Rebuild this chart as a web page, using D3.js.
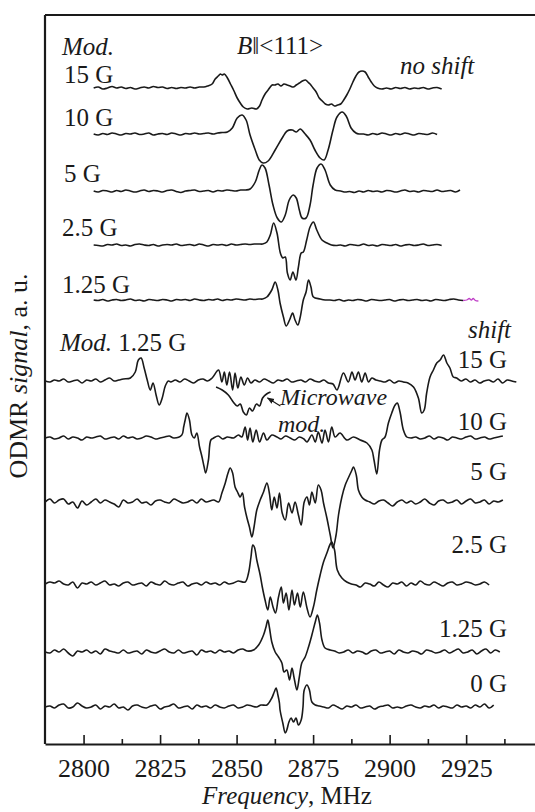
<!DOCTYPE html>
<html><head><meta charset="utf-8">
<script src="https://cdn.jsdelivr.net/npm/d3@7"></script>
<style>
html,body{margin:0;padding:0;background:#fff;}
svg{display:block;font-family:"Liberation Serif","DejaVu Serif",serif;}
</style></head><body>
<svg id="chart" width="535" height="812"></svg>
<script>
// ---------------- DATA ----------------
const STEP = 1.5; // MHz between baseline samples
const majorTicks = [2800, 2825, 2850, 2875, 2900, 2925];
const minorTicks = [2812.5, 2837.5, 2862.5, 2887.5, 2912.5, 2937.5];

// ---- "no shift" block, modulation amplitude series ----
const t15L = [0,1,-1,0,1.5,0,1,-0.5,0.5,-1, 0,1,0,1.5,0.5,1,-0.5,0.5,-0.5,0.5, 0,1,0,1,1];
const t15P = [[2840.5,2],[2842,4],[2843,9],[2844,12],[2844.7,14],[2845.3,13],[2846,14],[2847,10],[2848,4],[2849,-2],[2850.2,-10],[2851.2,-15],[2852.2,-19],[2853.5,-21],[2855,-20],[2856.5,-21],[2857.5,-18],[2858.3,-12],[2859.3,-6],[2860.3,-2],[2861.6,3],[2862.5,3],[2863.5,4],[2864.5,2],[2865.5,4],[2866.5,3],[2867.5,2],[2868.5,1],[2869.5,3],[2870.5,5],[2871.5,7],[2872.5,8],[2873.3,6],[2874,4],[2875,0],[2876,-4],[2877,-10],[2878,-13],[2879,-16],[2880,-17],[2881,-16],[2882,-18],[2883,-17],[2884,-16],[2885,-12],[2886,-7],[2887,-1],[2888,6],[2889,12],[2890,16],[2891,17],[2892,16],[2893,11],[2894,6],[2895,2],[2896,0]];
const t15R = [-1,0,-1,0.5,-0.5,0.5,-1,0,-0.5,0.5, -1,0,0.5,-1];

const t10L = [0,-1,0.5,-0.5,1,0,-1,0.5,0,1, -0.5,0,1,-1,0,0.5,-0.5,1,0,-1, 0.5,0,1,0,0.5,1,0,1,1.5];
const t10P = [[2847,2],[2848.6,6],[2850.2,16],[2851.8,19],[2853.1,14],[2854.4,-1],[2856.1,-16],[2857.4,-26],[2858.7,-29],[2860.3,-27],[2862.6,-16],[2864.9,-4],[2866.5,3],[2868.2,4],[2869.5,2],[2870.8,5],[2872.4,0],[2874,-6],[2875.6,-16],[2877.3,-24],[2878.6,-26],[2879.9,-16],[2881.5,4],[2882.8,17],[2884.5,22],[2885.8,18],[2887.4,6],[2889,1],[2890,0]];
const t10R = [0,-1,0.5,-0.5,1,0,-1,0.5,-0.5,1, 0,-1,0.5,0,-0.5,1,-0.5];

const t5L = [0,-1,0.5,0,-1,0.5,-0.5,1,0,-1, 0,1,-0.5,0.5,0,-1,0.5,1,-0.5,-1.5, 0,0.5,1,-0.5,0,0.5,-1,0.5,0,1, 0.5,0,1];
const t5P = [[2853,1],[2854.4,2],[2856.1,9],[2857.4,21],[2858.3,26],[2859.3,23],[2860.6,6],[2861.9,-14],[2863.3,-27],[2864.6,-31],[2865.9,-24],[2867.2,-9],[2868.5,-4],[2869.5,-7],[2870.5,-19],[2871.4,-27],[2872.7,-27],[2874,-14],[2875,6],[2876.3,23],[2877.6,27],[2878.9,21],[2880.6,6],[2882.2,1],[2884,0]];
const t5R = [-1,-0.5,-1.5,0,-1,0.5,-0.5,0,-1,0.5, 0,-1,0,1,-0.5,0,-1,0.5,0,-0.5, 1,-0.5,0,0.5,-1,1];

const t25L = [0,-0.5,-1,0.5,0,1,-0.5,0,-1,0.5, 1,0,-0.5,0.5,-1,0,0.5,0,1,-0.5, 0,0.5,-0.5,1,0,-1,0.5,0,0.5,-0.5, 1,0,0.5,1,0.5,1,1];
const t25P = [[2858.5,1],[2859.9,3],[2861,10],[2862.1,22],[2863.2,12],[2864.3,-8],[2865.1,-13],[2865.9,-12],[2866.6,-28],[2867.5,-35],[2868.4,-27],[2869.4,-35],[2870.2,-22],[2871.1,-8],[2871.8,-7],[2872.9,5],[2874,18],[2875.1,23],[2876.2,15],[2877.9,5],[2879.5,2],[2881,0]];
const t25R = [-0.5,0,-1,0.5,0,-0.5,1,-0.5,0,-1, 0.5,0,-0.5,0.5,-1,0,0.5,-0.5,0,1, -0.5,0,0.5,-0.5];

const t125L = [0,-0.5,0.5,-1,0,0.5,-0.5,0,1,-0.5, 0,-1,0.5,0,-0.5,0.5,0,-1,0.5,0, 0.5,-0.5,1,0,-0.5,0.5,0,1,-0.5,0.5, 0,1,0.5,0,1,0.5,1];
const t125P = [[2858.5,1],[2859.9,3],[2861.5,10],[2862.6,18],[2863.5,10],[2864.2,-3],[2865.3,-17],[2866.2,-26],[2867.3,-20],[2868.3,-13],[2869.1,-20],[2870,-25],[2870.8,-17],[2871.8,0],[2872.7,8],[2873.5,20],[2874.3,13],[2875.1,3],[2877.3,1],[2879,0]];
const t125R = [0,-0.5,0.5,-1,0,-0.5,0.5,0,-1,0.5, 0,-0.5,0,0.5,-1,0,0.5,-0.5,0,0.5, -0.5,0,-1,0.5,0,-0.5,0.5,1,0,-0.5];
const t125Tail = [[2924,-0.5],[2925.2,0],[2926,1.5],[2926.7,0],[2927.3,1.5],[2928,-0.5],[2929,-1]];

// ---- "shift" block, modulation 1.25 G ----
const b15L = [0,-1,1,0,2,-1,0,1,-2,1, 0,2,-1,1,3,0,1,2];
const b15P1 = [[2815.3,3],[2816.9,9],[2817.9,21],[2818.8,23],[2819.8,13],[2820.8,1],[2821.8,-9],[2822.7,-2],[2823.7,-14],[2824.7,-24],[2825.7,-17],[2826.7,-5],[2827.7,0],[2828.5,-1]];
const b15M1 = [1,-1,2,0,-2,1,2,0,3];
const b15P2 = [[2844.1,11],[2845.2,-1],[2846,9],[2846.8,-4],[2847.7,9],[2848.7,-9],[2849.5,8],[2850.4,-7],[2851.4,4],[2852.5,-4],[2853.6,3],[2854.7,-2]];
const b15M2 = [1,-1,2,0,-2,1,0,2,-1,0, 1,-1,2,0,-1,1,-2,-3];
const b15P3 = [[2882.8,-9],[2884.9,8],[2886.5,-1],[2887.7,9],[2888.7,1],[2889.8,9],[2890.9,-1],[2892,8],[2893.1,-1],[2894.2,3]];
const b15M3 = [1,0,-1,1,-2,0,-1,-2];
const b15P4 = [[2907.8,-6],[2909.4,-17],[2910.5,-32],[2911.3,-29],[2912.1,-12],[2913.2,4],[2914.3,11],[2915.4,18],[2916.5,21],[2917.6,26],[2918.7,18],[2919.7,13],[2920.8,4],[2921.9,3]];
const b15R = [0,2,-1,1,-2,0,1,-1,2,-2, 1,0,-1];
const mwMod = [[2843.3,-6],[2845.3,-9],[2847.3,-14],[2848.9,-21],[2850.2,-25],[2851.2,-23],[2852.2,-31],[2853.2,-34],[2854.2,-27],[2855.2,-30],[2856.5,-23],[2857.5,-25],[2858.5,-17],[2859.8,-13],[2861.1,-11]];

const b10L = [0,1,-1,0,2,-1,1,0,-2,1, 0,1,2,-1,0,1,-1,2,0,1, -1,0,2,1,-1,0,1,2,0];
const b10P1 = [[2832.1,3],[2832.7,11],[2833.2,18],[2833.8,25],[2834.6,18],[2835.4,3],[2836.2,0],[2837,5],[2837.9,-9],[2838.7,-19],[2839.4,-29],[2839.9,-35],[2840.8,-22],[2841.6,-2],[2842.5,0]];
const b10M1 = [2,-1,1];
const b10P2 = [[2849,0],[2850.6,3],[2851.7,1],[2852.8,11],[2853.6,-2],[2854.4,10],[2855.3,-4],[2856.4,8],[2857.5,-4],[2858.8,5],[2859.9,-2],[2861.5,3],[2863.2,1]];
const b10M2 = [-1,2,0,-2,1,-1];
const b10P3 = [[2873,-4],[2874.6,3],[2875.7,-4],[2876.7,6],[2877.9,-5],[2878.9,8],[2880,-4],[2881.1,11],[2882.2,1],[2883.8,5],[2886,-2],[2888.2,1],[2890.4,-2],[2892.6,-5],[2894.2,-12],[2894.9,-22],[2895.8,-36],[2896.7,-12],[2897.5,-2],[2898.5,1],[2899.6,15],[2900.7,25],[2901.8,33],[2902.5,35],[2903.4,26],[2904.5,8],[2905.6,1],[2907,0]];
const b10R = [1,-1,0,2,-1,1,0,-2,1,0, -1,1,2,-1,0,1,-1,0,1,2];

const b5L = [0,3,-1,2,3,-2,0,-6,1,-3, 0,3,-1,2,0,-2,-5,2,-1,0, 3,-1,0,-3,1,2,0,-1,3,1, -1,0,2,-1,3,0];
const b5P = [[2842.5,2],[2844.1,0],[2845.2,9],[2846.3,19],[2847.2,29],[2847.9,34],[2848.7,29],[2849.5,15],[2850.3,10],[2851.2,5],[2851.9,9],[2852.6,-5],[2853.4,-16],[2854.2,-25],[2855,-35],[2855.7,-25],[2856.6,-8],[2857.7,2],[2858.8,10],[2859.9,19],[2860.7,9],[2861.5,-8],[2862.3,5],[2863.2,-6],[2864,9],[2864.9,-11],[2865.9,-18],[2867,-1],[2868.1,-11],[2869.1,0],[2870.2,-13],[2871.1,-23],[2872.1,0],[2873,5],[2873.8,-3],[2874.6,10],[2875.7,-1],[2876.7,17],[2877.6,12],[2878.4,-1],[2879.5,-16],[2880.6,-33],[2881.5,-46],[2882.5,-33],[2883.3,-13],[2884.4,5],[2885.5,17],[2886.5,24],[2887.7,32],[2888.2,35],[2889.1,27],[2889.8,12],[2890.9,5],[2892,2]];
const b5R = [0,-2,1,2,-1,-4,0,2,-1,1, -2,0,3,-1,-3,1,2,-1,0,2, -2,1,3,-1,0,2,-2,1,0,2];

const b25L = [0,2,1,3,0,-1,2,-4,1,0, 2,-1,1,3,-1,0,-2,1,2,-1, 0,1,-2,2,0,-1,3,0,-1,1, 2,-2,0,1,-1,2,0,1,-1,2, 0,1,3];
const b25P = [[2852.8,2],[2853.9,11],[2854.7,27],[2855.3,39],[2855.8,37],[2856.6,24],[2857.7,9],[2858.4,-3],[2859.3,-16],[2860.2,-26],[2861,-13],[2861.9,-23],[2862.7,-29],[2863.7,-13],[2864.6,-3],[2865.3,-19],[2866.2,-9],[2867.1,-26],[2868.1,-6],[2868.9,-21],[2869.9,-9],[2870.8,-23],[2871.8,-8],[2873,-24],[2874,-33],[2875.1,-23],[2876.2,-6],[2877.3,9],[2878.4,22],[2879.5,31],[2880.6,40],[2881.1,42],[2882,34],[2882.9,14],[2884.4,6],[2886,2]];
const b25R = [0,-1,-3,1,0,-2,2,-1,-3,1, 0,2,-2,1,-1,3,0,-1,2,0, -2,1,2,-1,0,2,1,-1,0,2, -1];

const b125L = [0,-1,2,0,3,-1,-4,1,0,2, -1,1,-2,3,1,0,-1,2,-1,0, 1,-2,2,0,-1,1,3,0,-1,2, -1,0,1,-3,2,0,1,-1,2,0, 1,-1,2,3,1];
const b125P = [[2855.5,2],[2857.2,7],[2858.8,17],[2859.6,25],[2860.2,32],[2860.7,25],[2861.5,10],[2862.6,0],[2863.7,-5],[2864.8,-11],[2865.5,-20],[2866.4,-18],[2867.3,-28],[2868.1,-16],[2868.8,-26],[2869.7,-38],[2870.5,-25],[2871.3,-11],[2872.4,-5],[2873.5,5],[2874.6,17],[2875.7,30],[2876.4,37],[2877.1,29],[2877.9,12],[2878.9,4],[2880.6,2]];
const b125R = [1,-1,0,2,-1,1,0,-2,1,2, -1,0,1,-2,2,0,-1,1,0,-2, 2,1,-1,0,2,-1,1,3,-1,0, 2,-2,1,3,-1,2,0];

const b0L = [0,1,-1,2,3,-1,0,4,1,-1, 0,2,-2,1,0,3,-1,0,-3,1, 2,0,-1,1,2,-2,0,1,3,-1, 0,1,-2,2,0,1,-1,2,0,-1, 1,2,-1,0,2,1,0,2];
const b0P = [[2859.9,2],[2861.5,9],[2862.3,15],[2862.9,19],[2863.5,12],[2864,4],[2864.2,-3],[2865.1,-16],[2865.9,-26],[2866.4,-23],[2867.1,-15],[2867.8,-11],[2868.6,-15],[2869.4,-11],[2870.2,-18],[2871.1,-13],[2871.7,0],[2872.1,17],[2873,22],[2873.8,17],[2874.6,5],[2875.7,2]];
const b0R = [1,0,-1,2,0,-2,1,0,2,-1, 0,1,-2,0,1,2,-1,0,-1,1, 2,0,-1,1,0,2,-1,1,0,-1, 2,0,1,-1,2,0,3,-1,2];

// trace offsets (signal level of each baseline, a.u.)
const offsets = {t15:656, t10:610, t5:553, t25:499, t125:444, b15:363, b10:306, b5:242, b25:160, b125:92, b0:37};

// each trace: list of parts: ["n", startFreq, values] (uniform samples) or ["p", pairs]
const traces = [
  {off:offsets.t15, parts:[["n",2803.3,t15L],["p",t15P],["n",2897.5,t15R]]},
  {off:offsets.t10, parts:[["n",2803.3,t10L],["p",t10P],["n",2891.5,t10R]]},
  {off:offsets.t5, parts:[["n",2803.3,t5L],["p",t5P],["n",2885.5,t5R]]},
  {off:offsets.t25, parts:[["n",2803.3,t25L],["p",t25P],["n",2882.5,t25R]]},
  {off:offsets.t125, parts:[["n",2803.3,t125L],["p",t125P],["n",2880.5,t125R]]},
  {off:offsets.b15, parts:[["n",2787.5,b15L],["p",b15P1],["n",2830,b15M1],["p",b15P2],["n",2856,b15M2],["p",b15P3],["n",2895.5,b15M3],["p",b15P4],["n",2923.4,b15R]]},
  {off:offsets.b10, parts:[["n",2787.5,b10L],["p",b10P1],["n",2844,b10M1],["p",b10P2],["n",2864.5,b10M2],["p",b10P3],["n",2908.5,b10R]]},
  {off:offsets.b5, parts:[["n",2787.5,b5L],["p",b5P],["n",2893.5,b5R]]},
  {off:offsets.b25, parts:[["n",2787.5,b25L],["p",b25P],["n",2887.5,b25R]]},
  {off:offsets.b125, parts:[["n",2787.5,b125L],["p",b125P],["n",2882,b125R]]},
  {off:offsets.b0, parts:[["n",2787.5,b0L],["p",b0P],["n",2877,b0R]]},
  {off:offsets.b15, parts:[["p",mwMod]]}
];

// ---------------- DRAW ----------------
const FONT = '"Liberation Serif","DejaVu Serif",serif';
const svg = d3.select("#chart");
const pLeft = 45, pTop = 15, pBottom = 744, pRight = 535;
const x = d3.scaleLinear().domain([2787.4, 2947.5]).range([pLeft, pRight]);
const y = d3.scaleLinear().domain([0, 729]).range([pBottom, pTop]);
const FS = 25;
const ink = "#1a1a1a";

function pts(t) {
  const out = [];
  t.parts.forEach(p => {
    if (p[0] === "n") p[2].forEach((v, i) => out.push([p[1] + i * STEP, v]));
    else p[1].forEach(d => out.push(d));
  });
  return out.sort((a, b) => a[0] - b[0]);
}
const line = d3.line().curve(d3.curveCatmullRom.alpha(0.5));

const gT = svg.append("g");
traces.forEach(t => {
  gT.append("path")
    .attr("d", line(pts(t).map(d => [x(d[0]), y(t.off + d[1])])))
    .attr("fill", "none").attr("stroke", ink).attr("stroke-width", 1.6)
    .attr("stroke-linejoin", "round");
});
gT.append("path")
  .attr("d", line(t125Tail.map(d => [x(d[0]), y(offsets.t125 + d[1])])))
  .attr("fill", "none").attr("stroke", "#c040c8").attr("stroke-width", 1.3);

// frame
svg.append("line").attr("x1", pLeft).attr("x2", pLeft).attr("y1", pTop).attr("y2", pBottom)
  .attr("stroke", ink).attr("stroke-width", 2.2);
svg.append("line").attr("x1", pLeft).attr("x2", pRight).attr("y1", pTop).attr("y2", pTop)
  .attr("stroke", ink).attr("stroke-width", 2.2);

// axes
const ax = svg.append("g").attr("transform", `translate(0,${pBottom})`)
  .call(d3.axisBottom(x).tickValues(majorTicks).tickSize(-9).tickSizeOuter(0)
    .tickPadding(15).tickFormat(d3.format("d")));
ax.attr("font-family", FONT);
ax.select(".domain").attr("stroke", ink).attr("stroke-width", 2.2);
ax.selectAll(".tick line").attr("stroke", ink).attr("stroke-width", 1.6);
ax.selectAll(".tick text").attr("font-family", FONT).attr("font-size", 26).attr("fill", ink);
const axm = svg.append("g").attr("transform", `translate(0,${pBottom})`)
  .call(d3.axisBottom(x).tickValues(minorTicks).tickSize(-5).tickFormat(""));
axm.select(".domain").remove();
axm.selectAll(".tick line").attr("stroke", ink).attr("stroke-width", 1.6);

// text helper
function txt(xp, yp, parts, anchor, fs) {
  const t = svg.append("text").attr("x", xp).attr("y", yp).attr("font-size", fs || FS)
    .attr("font-family", FONT).attr("fill", ink).attr("text-anchor", anchor || "start");
  parts.forEach(p => t.append("tspan").attr("font-style", p[1] ? "italic" : "normal").text(p[0]));
  return t;
}

// x label
txt(287, 804, [["Frequency", 1], [", MHz", 0]], "middle");
// y label
const yl = svg.append("text").attr("transform", "translate(27,376) rotate(-90)")
  .attr("font-family", FONT).attr("font-size", 26).attr("fill", ink).attr("text-anchor", "middle");
yl.append("tspan").text("ODMR ");
yl.append("tspan").attr("font-style", "italic").text("signal");
yl.append("tspan").text(", a. u.");

// labels top block
txt(62, 55, [["Mod.", 1]]);
txt(64, 83, [["15 G", 0]]);
txt(64, 126, [["10 G", 0]]);
txt(64, 182, [["5 G", 0]]);
txt(62, 236, [["2.5 G", 0]]);
txt(62, 293, [["1.25 G", 0]]);
txt(237, 54, [["B", 1], ["\u2016<111>", 0]]);
txt(400, 74, [["no shift", 1]]);
txt(468, 338, [["shift", 1]]);
txt(60, 351, [["Mod.", 1], [" 1.25 G", 0]]);

// right labels bottom block
const rx = 507;
txt(rx, 368, [["15 G", 0]], "end");
txt(rx, 430, [["10 G", 0]], "end");
txt(rx, 480, [["5 G", 0]], "end");
txt(rx, 553, [["2.5 G", 0]], "end");
txt(rx, 637, [["1.25 G", 0]], "end");
txt(rx, 692, [["0 G", 0]], "end");

// microwave annotation
txt(280, 405, [["Microwave", 1]], "start", 24);
txt(278, 432, [["mod.", 1]], "start", 24);
svg.append("defs").append("marker").attr("id", "ah").attr("viewBox", "0 0 10 10")
  .attr("refX", 9).attr("refY", 5).attr("markerWidth", 6).attr("markerHeight", 6)
  .attr("orient", "auto").append("path").attr("d", "M0,1 L10,5 L0,9 Z").attr("fill", ink);
svg.append("line").attr("x1", x(2864.3)).attr("y1", y(338)).attr("x2", x(2860.1)).attr("y2", y(346))
  .attr("stroke", ink).attr("stroke-width", 1.2).attr("marker-end", "url(#ah)");
</script>
</body></html>
